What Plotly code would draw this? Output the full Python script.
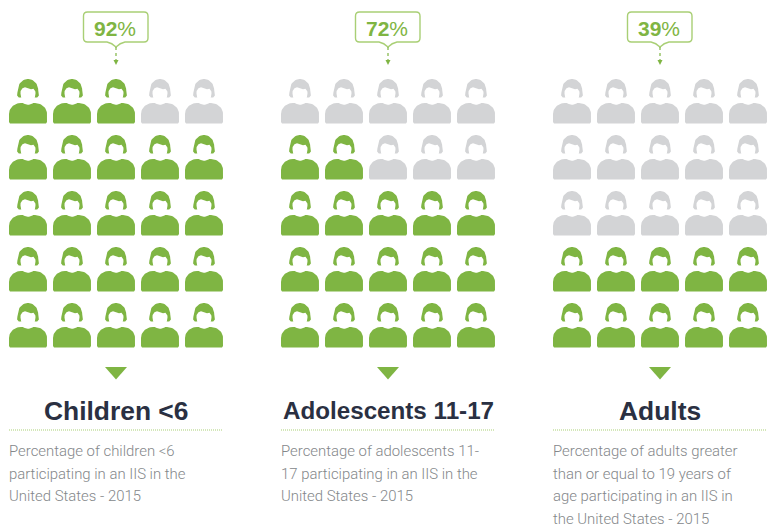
import numpy as np
import plotly.graph_objects as go

# ---- data ----
panel_titles = ["Children &lt;6", "Adolescents 11-17", "Adults"]
panel_percent = [92, 72, 39]
filled_people = [23, 17, 10]
panel_notes = [
    ["Percentage of children &lt;6", "participating in an IIS in the", "United States - 2015"],
    ["Percentage of adolescents 11-", "17 participating in an IIS in the", "United States - 2015"],
    ["Percentage of adults greater", "than or equal to 19 years of", "age participating in an IIS in", "the United States - 2015"],
]
n_rows = 5
n_cols = 5

# ---- style / layout ----
GREEN = "#7fb543"
GRAY = "#d3d4d6"
LIGHT = "#a9cf75"
W, H = 767, 527
panel_left = [9, 281, 553]
col_step = 44
row_step = 56
first_cx = 19
first_top = 79


def ellipse(cx, cy, rx, ry, a0=0, a1=360, n=48):
    t = np.radians(np.linspace(a0, a1, n))
    return cx + rx * np.cos(t), cy + ry * np.sin(t)


def glyph_body():
    xr, yr = ellipse(7, 35, 12, 11, -90, 0, 16)
    x = np.concatenate([[-18, -19], -xr[::-1], xr, [19, 18]])
    y = np.concatenate([[44.5, 43], yr[::-1], yr, [43, 44.5]])
    return x, y


def glyph_halo():
    return ellipse(0, 15, 9.4, 10.8)


def glyph_hair():
    xt, yt = ellipse(0, 11, 10.2, 11, 180, 360, 30)
    x = np.concatenate([[-9.2, -10.9, -10.6, -10.2], xt, [10.6, 10.9, 9.2]])
    y = np.concatenate([[18.5, 16.5, 13.5, 11], yt, [13.5, 16.5, 18.5]])
    return x, y


def glyph_face():
    # lower face is an ellipse; the top edge is the swept fringe
    xl, yl = ellipse(0, 14.5, 7.5, 9.7, 0, 180, 24)
    x = np.concatenate([xl, [-7.4, -5.5, -3, 0, 3, 5.5, 7.4]])
    y = np.concatenate([yl, [12, 9.3, 8.2, 9.6, 10.2, 9.8, 12.5]])
    return x, y


def place(glyph, centers):
    gx, gy = glyph
    xs, ys = [], []
    for cx, top in centers:
        xs += list(gx + cx) + [None]
        ys += list(gy + top) + [None]
    return xs, ys


# green fills from the bottom row up; a partial row fills from the left
green_c, gray_c = [], []
for p, left in enumerate(panel_left):
    n = filled_people[p]
    for r in range(n_rows - 1, -1, -1):
        for c in range(n_cols):
            centre = (left + first_cx + c * col_step, first_top + r * row_step)
            if n > 0:
                green_c.append(centre)
                n -= 1
            else:
                gray_c.append(centre)


def area(glyph, centers, color):
    x, y = place(glyph, centers)
    return go.Scatter(x=x, y=y, mode="lines", fill="toself", fillcolor=color,
                      line=dict(width=0, color=color), hoverinfo="skip", showlegend=False)


fig = go.Figure()
all_c = green_c + gray_c
for centers, color in ((green_c, GREEN), (gray_c, GRAY)):
    fig.add_trace(area(glyph_body(), centers, color))
fig.add_trace(area(glyph_halo(), all_c, "white"))
for centers, color in ((green_c, GREEN), (gray_c, GRAY)):
    fig.add_trace(area(glyph_hair(), centers, color))
fig.add_trace(area(glyph_face(), all_c, "white"))

shapes, annotations = [], []
for p, left in enumerate(panel_left):
    mid = left + first_cx + 2 * col_step
    x0, x1, y0, y1, rad = mid - 32.5, mid + 32, 12, 42, 4
    path = (f"M{x0 + rad},{y0} L{x1 - rad},{y0} Q{x1},{y0} {x1},{y0 + rad} "
            f"L{x1},{y1 - rad} Q{x1},{y1} {x1 - rad},{y1} L{mid + 9},{y1} "
            f"Q{mid + 4},{y1 + 1} {mid},{y1 + 5} Q{mid - 4},{y1 + 1} {mid - 9},{y1} "
            f"L{x0 + rad},{y1} Q{x0},{y1} {x0},{y1 - rad} L{x0},{y0 + rad} Q{x0},{y0} {x0 + rad},{y0} Z")
    shapes.append(dict(type="path", path=path, line=dict(color=LIGHT, width=1.4), fillcolor="white"))
    shapes.append(dict(type="line", x0=mid, x1=mid, y0=47, y1=60,
                       line=dict(color=GREEN, width=1.2, dash="dot")))
    shapes.append(dict(type="path", path=f"M{mid - 2.5},60 L{mid + 2.5},60 L{mid},65 Z",
                       fillcolor=GREEN, line=dict(width=0)))
    shapes.append(dict(type="path", path=f"M{mid - 11},367 L{mid + 11},367 L{mid},379.5 Z",
                       fillcolor=GREEN, line=dict(width=0)))
    shapes.append(dict(type="line", x0=left, x1=left + 214, y0=430, y1=430,
                       line=dict(color=LIGHT, width=1.2, dash="1px,1px")))
    annotations.append(dict(x=mid, xshift=-1, y=28, xanchor="center", yanchor="middle", showarrow=False,
                            text=f"<b>{panel_percent[p]}</b>%",
                            font=dict(family="Liberation Sans", size=21, color=GREEN)))
    annotations.append(dict(x=mid, y=410.5, xanchor="center", yanchor="middle", showarrow=False,
                            text=f"<b>{panel_titles[p]}</b>",
                            font=dict(family="Liberation Sans", size=26.4 if p != 1 else 24.2, color="#2a3042")))
    for i, line in enumerate(panel_notes[p]):
        annotations.append(dict(x=left, xshift=-2, y=451 + i * 22.5, xanchor="left", yanchor="middle",
                                showarrow=False, align="left", text=line,
                                font=dict(family="Roboto", size=14.9, weight=300, color="#84878a")))

fig.update_layout(
    width=W, height=H, margin=dict(l=0, r=0, t=0, b=0),
    paper_bgcolor="white", plot_bgcolor="white", showlegend=False,
    xaxis=dict(range=[0, W], visible=False, fixedrange=True),
    yaxis=dict(range=[H, 0], visible=False, fixedrange=True),
    shapes=shapes, annotations=annotations,
)
fig.write_html("out.html", config=dict(displayModeBar=False),
               post_script="document.body.style.margin='0';document.body.style.overflow='hidden';")
